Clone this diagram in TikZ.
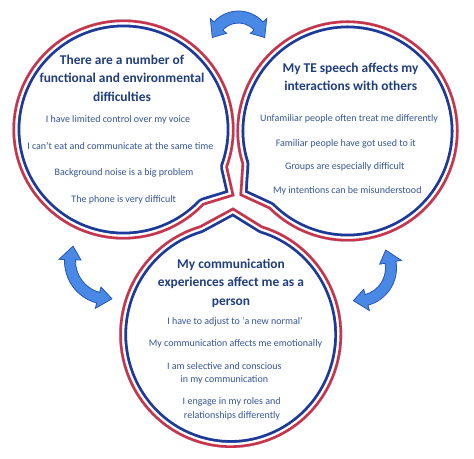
\documentclass[tikz,border=0pt]{standalone}
\usepackage{fontspec}
\setmainfont{Carlito}
\definecolor{bred}{HTML}{C8354B}
\definecolor{bblue}{HTML}{1B3A9A}
\definecolor{headc}{HTML}{203E7E}
\definecolor{bodyc}{HTML}{35569A}
\definecolor{arrf}{HTML}{4A88E6}
\definecolor{arrd}{HTML}{2456B4}
\tikzset{
  head/.style={anchor=base, text=headc, font=\fontsize{13.4}{16}\selectfont\bfseries, inner sep=0pt},
  body/.style={anchor=base, text=bodyc, font=\fontsize{10}{12}\selectfont, inner sep=0pt},
  arrowshape/.style={fill=arrf, draw=arrd, line width=0.8pt, line join=miter},
  bandblue/.style={draw=bblue, line width=15.6pt, line join=round},
  bandwhite/.style={draw=white, line width=10pt, line join=round},
  bandred/.style={draw=bred, line width=5.2pt, line join=round}
}
\newcommand\curvedarrow[9]{%
 \pgfmathsetmacro\ro{#5+#6}\pgfmathsetmacro\ri{#5-#6}%
 \pgfmathsetmacro\rho{#5+#7}\pgfmathsetmacro\rhi{#5-#7}%
 \pgfmathsetmacro\ta{#3-#8}\pgfmathsetmacro\tb{#4+#8}%
 \path[arrowshape] ([shift={(#1,#2)}]#3:\ro) arc[start angle=#3, end angle=#4, radius=\ro]
   -- ([shift={(#1,#2)}]#4:\rho) -- ([shift={(#1,#2)}]\tb:#5) -- ([shift={(#1,#2)}]#4:\rhi)
   -- ([shift={(#1,#2)}]#4:\ri) arc[start angle=#4, end angle=#3, radius=\ri]
   -- ([shift={(#1,#2)}]#3:\rhi) -- ([shift={(#1,#2)}]\ta:#5) -- ([shift={(#1,#2)}]#3:\rho) -- cycle;#9}
\newcommand\bubLeft{([shift={(123.5,129.5)}]43.6:111 and 110) arc[start angle=43.6, end angle=379.9, x radius=111, y radius=110] -- (234.5,196) -- cycle}
\newcommand\bubRight{([shift={(347.5,131)}]162.6:111 and 110.5) arc[start angle=162.6, end angle=495, x radius=111, y radius=110.5] -- (239.5,195.5) -- cycle}
\newcommand\bubBottom{([shift={(230.7,334.5)}]286.6:111.4 and 113.4) arc[start angle=286.6, end angle=613.8, x radius=111.4, y radius=113.4] -- (233,207.5) -- cycle}
\begin{document}
\begin{tikzpicture}[x=1pt,y=1pt]
\begin{scope}[yscale=-1]
\useasboundingbox (0,0) rectangle (474,458);
\fill[white] (0,0) rectangle (474,458);
% bubbles
\begin{scope}\clip \bubLeft; \path[bandblue] \bubLeft; \path[bandwhite] \bubLeft; \path[bandred] \bubLeft; \end{scope}
\begin{scope}\clip \bubRight; \path[bandblue] \bubRight; \path[bandwhite] \bubRight; \path[bandred] \bubRight; \end{scope}
\begin{scope}\clip \bubBottom; \path[bandblue] \bubBottom; \path[bandwhite] \bubBottom; \path[bandred] \bubBottom; \end{scope}
% arrows
\curvedarrow{238.5}{44}{222}{318}{27}{6}{11}{28}{}
\curvedarrow{108}{261}{105}{182}{38}{5.5}{11}{21}{}
\curvedarrow{358}{268}{-10}{75}{33}{5.5}{11}{23}{}
% left text
\node[head] (lh1) at (122,64.3) {There are a number of};
\node[head] (lh2) at (122,82.7) {functional and environmental};
\node[head] (lh3) at (122,101) {difficulties};
\node[body] (lb1) at (118,122.6) {I have limited control over my voice};
\node[body] (lb2) at (120.3,149.3) {I can’t eat and communicate at the same time};
\node[body] (lb3) at (124,175.3) {Background noise is a big problem};
\node[body] (lb4) at (123.7,202.6) {The phone is very difficult};
% right text
\node[head] (rh1) at (350.5,72.7) {My TE speech affects my};
\node[head] (rh2) at (350.7,90.7) {interactions with others};
\node[body] (rb1) at (349,121.6) {Unfamiliar people often treat me differently};
\node[body] (rb2) at (345.8,146.6) {Familiar people have got used to it};
\node[body] (rb3) at (344.8,169) {Groups are especially difficult};
\node[body] (rb4) at (347.3,193.3) {My intentions can be misunderstood};
% bottom text
\node[head] (bh1) at (231,268.3) {My communication};
\node[head] (bh2) at (231,286.7) {experiences affect me as a};
\node[head] (bh3) at (231,305) {person};
\node[body] (bb1) at (235,324.3) {I have to adjust to ‘a new normal’};
\node[body] (bb2) at (235.5,346.6) {My communication affects me emotionally};
\node[body] (bb3) at (224.3,369) {I am selective and conscious};
\node[body] (bb4) at (224.3,382.6) {in my communication};
\node[body] (bb5) at (231.7,404.3) {I engage in my roles and};
\node[body] (bb6) at (232,418.3) {relationships differently};
\end{scope}
\end{tikzpicture}
\end{document}
